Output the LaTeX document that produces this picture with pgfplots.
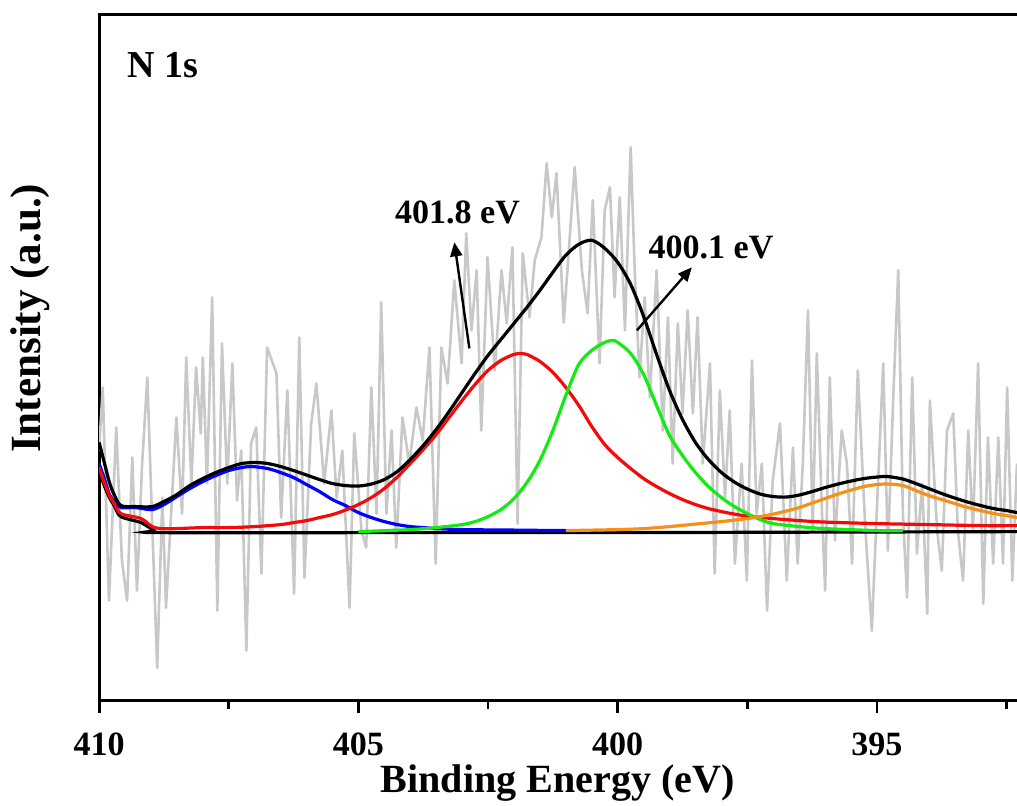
\documentclass[border=0pt]{standalone}
\usepackage{fontspec}
\setmainfont{Liberation Serif}
\usepackage{pgfplots}
\pgfplotsset{compat=1.18}
\usetikzlibrary{arrows.meta}

\definecolor{rawgray}{RGB}{200,200,200}
\definecolor{cblue}{RGB}{0,0,255}
\definecolor{cred}{RGB}{245,10,10}
\definecolor{cgreen}{RGB}{20,235,20}
\definecolor{corange}{RGB}{245,145,25}

\begin{document}
\begin{tikzpicture}
\begin{axis}[
  scale only axis,
  width=479.15pt, height=343pt,
  x dir=reverse,
  xmin=391.5, xmax=410,
  ymin=0, ymax=686,
  axis line style={line width=1.5pt},
  xtick={395,400,405,410},
  minor xtick={392.5,397.5,402.5,407.5},
  xtick pos=bottom,
  tick align=outside,
  major tick length=6pt,
  minor tick length=4pt,
  tick style={line width=1.4pt, black},
  ytick=\empty,
  xticklabel style={font=\fontsize{17}{20}\selectfont\bfseries, yshift=-6.5pt},
  /pgf/number format/assume math mode=true,
  xlabel={Binding Energy (eV)},
  ylabel={Intensity (a.u.)},
  xlabel style={font=\fontsize{20}{24}\selectfont\bfseries,
    at={(axis description cs:0.478,0)}, anchor=center, yshift=-41pt},
  ylabel style={font=\fontsize{21.5}{25}\selectfont\bfseries,
    at={(axis description cs:-0.072,0.557)}, anchor=center},
]

% raw spectrum
\addplot[color=rawgray, line width=1.3pt, line join=round] table {
410.00 250
409.93 313
409.81 100
409.67 273
409.56 140
409.46 100
409.36 243
409.27 110
409.17 237
409.07 323
408.98 183
408.88 33
408.78 203
408.71 93
408.51 283
408.40 187
408.32 343
408.22 217
408.13 333
408.04 267
408.00 343
407.92 217
407.82 403
407.72 90
407.63 357
407.53 217
407.43 337
407.34 200
407.26 250
407.16 50
407.07 257
406.97 273
406.87 127
406.76 353
406.58 327
406.49 183
406.37 310
406.24 107
406.14 363
406.04 123
405.91 277
405.81 317
405.66 217
405.52 290
405.42 203
405.31 250
405.17 93
405.08 267
404.94 170
404.85 153
404.75 313
404.65 187
404.56 398
404.46 187
404.36 270
404.27 153
404.15 283
404.02 237
403.88 293
403.76 260
403.63 353
403.51 137
403.40 353
403.28 317
403.15 420
403.01 337
402.92 467
402.82 370
402.72 430
402.63 270
402.51 443
402.37 330
402.24 430
402.14 377
402.03 453
401.93 177
401.83 447
401.70 383
401.60 440
401.47 463
401.37 537
401.27 483
401.18 527
401.04 378
400.83 533
400.69 430
400.58 387
400.48 500
400.35 337
400.25 490
400.15 513
400.06 403
399.96 503
399.86 370
399.75 553
399.67 427
399.58 323
399.48 403
399.38 303
399.25 430
399.13 270
399.03 383
398.94 237
398.84 377
398.75 287
398.65 390
398.55 287
398.46 383
398.36 237
398.22 337
398.13 127
398.03 310
397.93 203
397.84 290
397.74 137
397.61 237
397.51 120
397.41 340
397.32 187
397.22 237
397.12 90
397.01 220
396.87 277
396.74 120
396.62 253
396.53 137
396.43 237
396.33 390
396.24 170
396.16 347
396.06 187
396.00 110
395.91 323
395.81 160
395.68 270
395.58 237
395.48 137
395.37 330
395.23 177
395.10 70
395.00 193
394.88 337
394.79 150
394.69 297
394.59 430
394.50 187
394.42 103
394.32 323
394.23 147
394.13 217
394.03 87
393.98 300
393.84 170
393.75 130
393.65 270
393.53 287
393.44 170
393.34 120
393.24 270
393.15 170
393.05 337
392.95 97
392.86 263
392.76 137
392.66 263
392.57 137
392.49 313
392.39 120
392.30 237
};

% background
\addplot[black, line width=1.6pt, smooth] table {
410.00 230
409.90 215
409.80 203
409.71 195
409.58 184
409.19 178
408.94 170
408.80 168
404.00 168
400.00 168
396.00 168.5
392.30 169
};

% 407.0 eV component
\addplot[cblue, line width=1.6pt, smooth] table {
410.00 237
409.90 222
409.80 206
409.71 199
409.58 193
409.30 193
408.98 191
408.75 196
408.50 204
408.25 212
408.00 219
407.75 225
407.50 230
407.25 233
407.05 234
406.75 232
406.50 228
406.25 223
406.00 216
405.75 209
405.50 201
405.25 195
405.00 188
404.75 183
404.50 179
404.25 176
404.00 174
403.75 173
403.50 172
403.00 171
402.00 170.5
401.00 170
400.00 170
};

% 401.8 eV component
\addplot[cred, line width=1.6pt, smooth] table {
410.00 233
409.90 218
409.80 205
409.71 197
409.58 187
409.19 182
408.98 174
408.80 172
408.50 172
408.00 173
407.50 173
407.00 174
406.50 176
406.25 178
406.00 180
405.75 183
405.50 186
405.25 190.5
405.00 196
404.75 203
404.50 212
404.25 223.5
404.00 237
403.75 251
403.50 266
403.25 283
403.00 300
402.75 316
402.50 330
402.25 340
402.00 346
401.85 347
401.75 346
401.50 339
401.25 328
401.00 313
400.75 295
400.50 274
400.25 256
400.00 243
399.75 232
399.50 222
399.25 214
399.00 207
398.75 201
398.50 196
398.25 192
398.00 189
397.75 186.5
397.50 184.5
397.00 182
396.50 180
396.00 178.5
395.00 177
394.00 176
393.00 175
392.30 175
};

% 400.1 eV component
\addplot[cgreen, line width=1.6pt, smooth] table {
405.00 169
404.00 171
403.50 173
403.00 176
402.75 179
402.50 184
402.25 191
402.00 202
401.75 218
401.50 240
401.25 270
401.00 305
400.75 336
400.50 350
400.25 358
400.10 360
400.00 358
399.75 347
399.50 326
399.25 295
399.00 265
398.75 245
398.50 228
398.25 214
398.00 203
397.75 194
397.50 187
397.25 181
397.00 177
396.50 174
396.00 172
395.00 170
394.50 170
};

% 394.8 eV component
\addplot[corange, line width=1.6pt, smooth] table {
401.00 170
400.00 171
399.50 172
399.00 174
398.50 176.5
398.00 179
397.75 180.5
397.50 182
397.25 184
397.00 186.5
396.75 189.5
396.50 193
396.25 197.5
396.00 202
395.75 206.5
395.50 210.5
395.25 214
395.00 216
394.80 216.5
394.50 215
394.25 210
394.00 205
393.75 201
393.50 197
393.25 193
393.00 190
392.75 187
392.50 185
392.30 183
};

% envelope
\addplot[black, line width=1.6pt, smooth] table {
410.00 258
409.90 238
409.80 218
409.71 206
409.58 195
409.30 194
408.98 194
408.75 199
408.50 206
408.25 215
408.00 222
407.75 228
407.50 233
407.25 237
407.00 238
406.75 237
406.50 234
406.25 230
406.00 225.5
405.75 221
405.50 217
405.25 215
405.00 214.5
404.75 216.5
404.50 221
404.25 229
404.00 241
403.75 255
403.50 271
403.25 289
403.00 308
402.75 327
402.50 345
402.25 361
402.00 377
401.75 393
401.50 410
401.25 428
401.00 445
400.75 456
400.50 460
400.25 452
400.00 438
399.75 416
399.50 384
399.25 346
399.00 310
398.75 281
398.50 258
398.25 241
398.00 228
397.75 218.5
397.50 211.5
397.25 206.5
397.00 204
396.75 203.5
396.50 205.5
396.25 209
396.00 213
395.75 216.5
395.50 219.5
395.25 222
395.00 223.5
394.80 224
394.50 221.5
394.25 217
394.00 212
393.75 207
393.50 202.5
393.25 198.5
393.00 195
392.75 192
392.50 190
392.30 188
};

\node[anchor=base west, font=\fontsize{19}{22}\selectfont\bfseries]
  at (axis cs:409.58,623) {N 1s};
\node[font=\fontsize{17}{20}\selectfont\bfseries] at (axis cs:403.09,488) {401.8 eV};
\node[font=\fontsize{17}{20}\selectfont\bfseries] at (axis cs:398.20,453) {400.1 eV};
\draw[line width=1.2pt, -{Triangle[length=7pt,width=6pt]}]
  (axis cs:402.86,352) -- (axis cs:403.15,458);
\draw[line width=1.2pt, -{Triangle[length=7pt,width=6pt]}]
  (axis cs:399.63,370) -- (axis cs:398.57,433);

\coordinate (bl) at (axis cs:410,0);
\coordinate (tr) at (axis cs:392.3,686);
\end{axis}
\pgfresetboundingbox
\path[use as bounding box] ([shift={(-49.5pt,-52.5pt)}]bl) rectangle ([shift={(0pt,7pt)}]tr);
\end{tikzpicture}
\end{document}
